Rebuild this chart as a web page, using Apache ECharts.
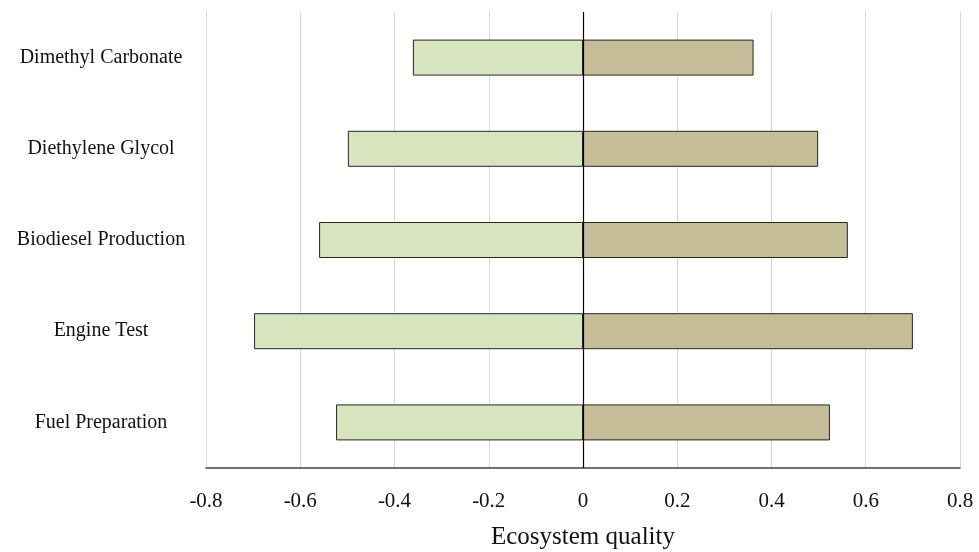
<!DOCTYPE html>
<html>
<head>
<meta charset="utf-8">
<script src="https://cdn.jsdelivr.net/npm/echarts@6/dist/echarts.min.js"></script>
<style>html,body{margin:0;padding:0;background:#fff}#c{width:979px;height:552px}</style>
</head>
<body>
<div id="c"></div>
<script>
const categories = ['Fuel Preparation', 'Engine Test', 'Biodiesel Production', 'Diethylene Glycol', 'Dimethyl Carbonate'];
const negativeValues = [-0.524, -0.698, -0.56, -0.499, -0.361];
const positiveValues = [0.524, 0.700, 0.562, 0.499, 0.362];
const xTicks = { min: -0.8, max: 0.8, interval: 0.2 };
const xTitle = 'Ecosystem quality';

const chart = echarts.init(document.getElementById('c'), null, { renderer: 'canvas' });
const serif = '"Liberation Serif", "Times New Roman", serif';
chart.setOption({
  animation: false,
  backgroundColor: '#ffffff',
  grid: { left: 206, right: 19, top: 12, bottom: 84, containLabel: false, outerBoundsMode: 'none' },
  xAxis: {
    type: 'value',
    min: xTicks.min, max: xTicks.max, interval: xTicks.interval,
    name: xTitle,
    nameLocation: 'middle',
    nameGap: 57,
    nameTextStyle: { fontFamily: serif, fontSize: 25, color: '#111' },
    axisLine: { show: true, onZero: false, lineStyle: { color: '#404040', width: 1.5 } },
    axisTick: { show: false },
    axisLabel: {
      fontFamily: serif, fontSize: 21, color: '#111', margin: 23,
      formatter: v => (Math.abs(v) < 1e-9 ? '0' : String(Math.round(v * 10) / 10))
    },
    splitLine: { show: true, lineStyle: { color: '#d9d9d9', width: 1 } }
  },
  yAxis: {
    type: 'category',
    data: categories,
    axisLine: { show: false, onZero: false },
    axisTick: { show: false },
    splitLine: { show: false },
    axisLabel: { fontFamily: serif, fontSize: 20, color: '#111', align: 'center', margin: 105 }
  },
  series: [
    {
      type: 'bar', stack: 'a', data: negativeValues, barWidth: 36,
      itemStyle: { color: '#d7e4bd', borderColor: '#262626', borderWidth: 1 },
      markLine: {
        silent: true, symbol: 'none', label: { show: false },
        lineStyle: { color: '#000', type: 'solid', width: 1.2 },
        data: [{ xAxis: 0 }]
      }
    },
    {
      type: 'bar', stack: 'a', data: positiveValues, barWidth: 36,
      itemStyle: { color: '#c4bd97', borderColor: '#262626', borderWidth: 1 }
    }
  ]
});
</script>
</body>
</html>
